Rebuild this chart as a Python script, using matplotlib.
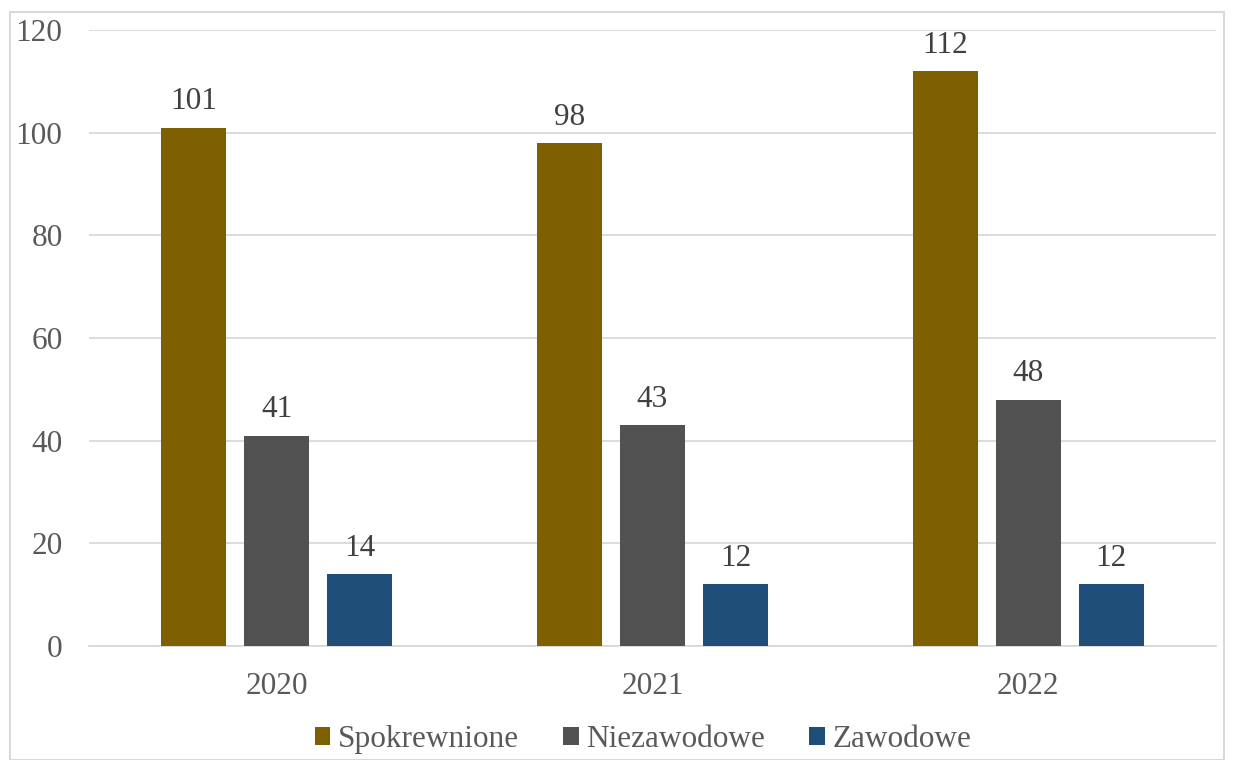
import numpy as np
import matplotlib.pyplot as plt
from matplotlib.patches import Rectangle

years = ["2020", "2021", "2022"]
series = ["Spokrewnione", "Niezawodowe", "Zawodowe"]
spokrewnione = [101, 98, 112]
niezawodowe = [41, 43, 48]
zawodowe = [14, 12, 12]
colors = ["#7f6000", "#525252", "#1f4e79"]

plt.rcParams['font.family'] = ['Liberation Serif', 'DejaVu Serif']
txt = "#595959"

fig = plt.figure(figsize=(12.34, 7.6), dpi=100)
ax = fig.add_axes([0.0721, 0.15, 0.9133, 0.8105])

x = np.arange(len(years))
w = 0.173
step = 0.221
for i, (vals, c, name) in enumerate(zip([spokrewnione, niezawodowe, zawodowe], colors, series)):
    pos = x + (i - 1) * step
    bars = ax.bar(pos, vals, width=w, color=c, label=name, zorder=3)
    for b, v in zip(bars, vals):
        ax.annotate(str(v), (b.get_x() + b.get_width() / 2, v), xytext=(0, 8),
                    textcoords="offset points", ha="center", va="bottom",
                    fontsize=22.5, color="#404040")

ax.set_xlim(-0.5, 2.5)
ax.set_ylim(0, 120)
ax.set_yticks(range(0, 121, 20))
ax.set_xticks(x)
ax.set_xticklabels(years)
ax.grid(axis="y", color="#d9d9d9", linewidth=1.3, zorder=0)
for s in ["top", "right", "left"]:
    ax.spines[s].set_visible(False)
ax.spines["bottom"].set_color("#d9d9d9")
ax.spines["bottom"].set_linewidth(1.3)
ax.tick_params(axis="both", length=0, labelsize=22.5, labelcolor=txt)
ax.tick_params(axis="y", pad=19)
ax.tick_params(axis="x", pad=19)

fig.legend(loc="lower center", bbox_to_anchor=(0.521, -0.029), ncol=3, frameon=False,
           fontsize=22.5, labelcolor=txt, handlelength=0.5, handleheight=0.5,
           handletextpad=0.25, columnspacing=1.4)

fig.patches.append(Rectangle((10 / 1234, 0), 1 - 20 / 1234, 1 - 12 / 760,
                             transform=fig.transFigure, fill=False,
                             edgecolor="#d9d9d9", linewidth=1.5))

fig.savefig("out.png", dpi=100)
